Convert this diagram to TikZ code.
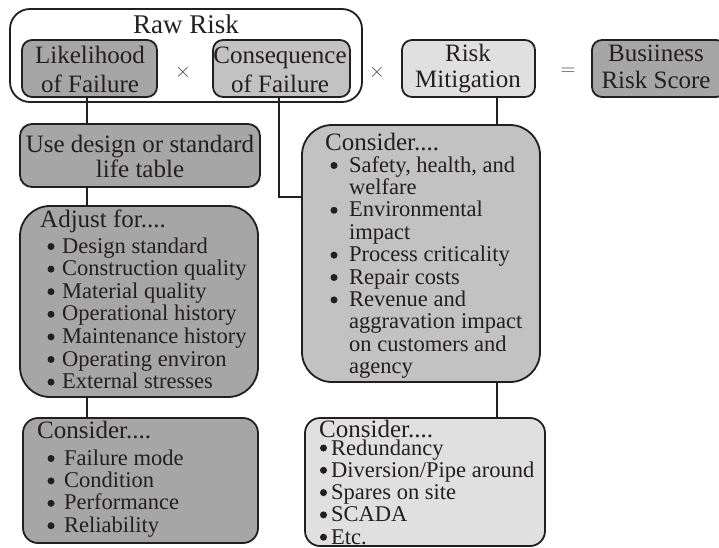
\documentclass[tikz,border=0pt]{standalone}
\usepackage{fontspec}
\setmainfont{Liberation Serif}
\definecolor{ink}{HTML}{231F20}
\definecolor{darkfill}{HTML}{A6A6A6}
\definecolor{midfill}{HTML}{C2C2C2}
\definecolor{lightfill}{HTML}{E0E0E0}
\begin{document}
\begin{tikzpicture}[x=1pt,y=-1pt,
  box/.style={draw=ink, line width=1.8pt, inner sep=0pt, outer sep=0pt},
  head/.style={font=\fontsize{25}{29}\selectfont, inner sep=0pt, text=ink},
  item/.style={font=\fontsize{22.5}{22.5}\selectfont, inner sep=0pt, text=ink, anchor=base west},
  dot/.style={circle, fill=ink, inner sep=0pt, minimum size=7pt},
  op/.style={font=\fontsize{22}{22}\selectfont, inner sep=0pt, text=ink!80},
  link/.style={draw=ink, line width=1.8pt}]
\useasboundingbox (0,0) rectangle (719,547);
\begin{scope}
\clip (0,0) rectangle (719,547);

% frames: the raw-risk group and the four factor boxes
\node[box, rounded corners=20pt, minimum width=352pt, minimum height=93pt] (raw) at (186,55.5) {};
\node[box, fill=darkfill, rounded corners=10pt, minimum width=135pt, minimum height=57pt] (lik) at (89.5,68.5) {};
\node[box, fill=midfill, rounded corners=10pt, minimum width=137pt, minimum height=57pt] (con) at (281.5,68.5) {};
\node[box, fill=lightfill, rounded corners=10pt, minimum width=133pt, minimum height=57pt] (mit) at (468.5,68.5) {};
\node[box, fill=darkfill, rounded corners=10pt, minimum width=134pt, minimum height=57pt] (bus) at (659,68.5) {};

% left column
\node[box, fill=darkfill, rounded corners=12pt, minimum width=240pt, minimum height=63pt] (use) at (140,155.5) {};
\node[box, fill=darkfill, rounded corners=30pt, minimum width=238pt, minimum height=191pt] (adj) at (139,301.5) {};
\node[box, fill=darkfill, rounded corners=15pt, minimum width=235pt, minimum height=125pt] (lcons) at (140.5,480.5) {};

% right column
\node[box, fill=midfill, rounded corners=30pt, minimum width=238pt, minimum height=257pt] (rcons) at (421,253.5) {};
\node[box, fill=lightfill, rounded corners=15pt, minimum width=240pt, minimum height=128pt] (mcons) at (425,482) {};

% connectors
\coordinate (likdown) at (87,97);
\coordinate (condown) at (279,97);
\coordinate (mitdown) at (497,97);
\coordinate (usedown) at (87,187);
\coordinate (adjdown) at (87,397);
\coordinate (rconsdown) at (497,382);
\draw[link] (likdown) -- (likdown |- use.north);
\draw[link] (usedown) -- (usedown |- adj.north);
\draw[link] (adjdown) -- (adjdown |- lcons.north);
\draw[link] (condown) |- (rcons.west |- 0,197);
\draw[link] (mitdown) -- (mitdown |- rcons.north);
\draw[link] (rconsdown) -- (rconsdown |- mcons.north);

% operators between the factors
\node[op] (times1) at (183,72) {$\times$};
\node[op] (times2) at (377,72) {$\times$};
\node[op] (equals) at (568,72) {$=$};

% titles
\node[head, font=\fontsize{27}{29}\selectfont, anchor=base] (rawtitle) at (186,33) {Raw Risk};
\node[head, anchor=base] (lik1) at (90,63) {Likelihood};
\node[head, anchor=base] (lik2) at (90,92) {of Failure};
\node[head, anchor=base] (con1) at (280,63) {Consequence};
\node[head, anchor=base] (con2) at (280,92) {of Failure};
\node[head, anchor=base] (mit1) at (468,61) {Risk};
\node[head, anchor=base] (mit2) at (468,87) {Mitigation};
\node[head, anchor=base] (bus1) at (656,61) {Busiiness};
\node[head, anchor=base] (bus2) at (656,88) {Risk Score};
\node[head, anchor=base] (use1) at (140,152) {Use design or standard};
\node[head, anchor=base] (use2) at (140,177) {life table};

% list in the adjustment box
\node[head, anchor=base west] (adjhead) at (40,227) {Adjust for....};
\foreach \t [count=\i] in {Design standard,Construction quality,Material quality,Operational history,Maintenance history,Operating environ,External stresses}{
  \node[item] (adj\i) at (62,{253+22.6*(\i-1)}) {\t};
  \node[dot] (adjdot\i) at (51,{246.5+22.6*(\i-1)}) {};
}

% list in the lower left box
\node[head, anchor=base west] (lconshead) at (37,438) {Consider....};
\foreach \t [count=\i] in {Failure mode,Condition,Performance,Reliability}{
  \node[item] (lcons\i) at (64,{465+22.4*(\i-1)}) {\t};
  \node[dot] (lconsdot\i) at (51,{458.5+22.4*(\i-1)}) {};
}

% list in the consequence box
\node[head, anchor=base west] (rconshead) at (325,150) {Consider....};
\foreach \t/\b [count=\i] in {Safety{,} health{,} and/1,welfare/0,Environmental/1,impact/0,Process criticality/1,Repair costs/1,Revenue and/1,aggravation impact/0,on customers and/0,agency/0}{
  \node[item] (rcons\i) at (349,{172+22.4*(\i-1)}) {\t};
  \ifnum\b=1 \node[dot] (rconsdot\i) at (334,{165.5+22.4*(\i-1)}) {};\fi
}

% list in the mitigation box
\node[head, anchor=base west] (mconshead) at (319,437) {Consider....};
\foreach \t [count=\i] in {Redundancy,Diversion/Pipe around,Spares on site,SCADA,Etc.}{
  \node[item] (mcons\i) at (331,{455+22.3*(\i-1)}) {\t};
  \node[dot] (mconsdot\i) at (323.5,{448+22.3*(\i-1)}) {};
}
\end{scope}
\end{tikzpicture}
\end{document}
